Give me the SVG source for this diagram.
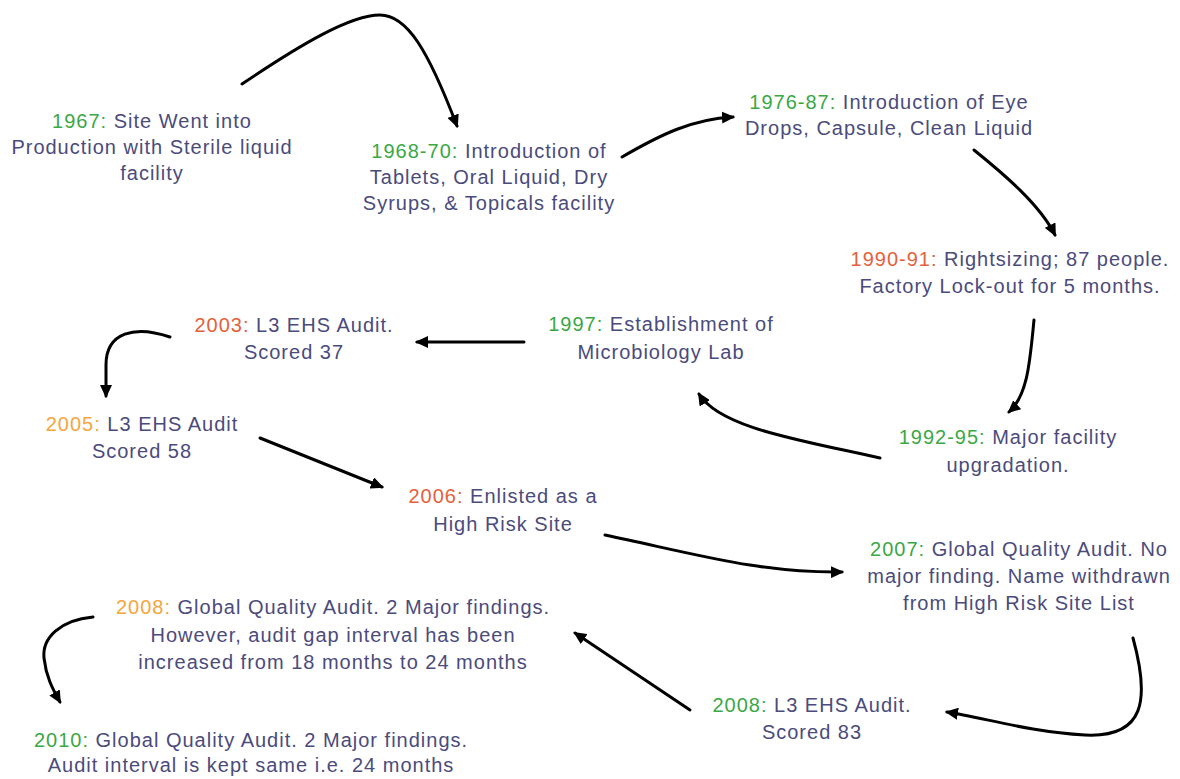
<svg xmlns="http://www.w3.org/2000/svg" width="1180" height="779" viewBox="0 0 1180 779">
<defs>
<style>
.t{font-family:"Liberation Sans",Arial,sans-serif;font-size:20px;letter-spacing:1px;fill:#4b4b7c;text-anchor:middle}
.g{fill:#3aa845}
.r{fill:#e5603a}
.o{fill:#f4a63e}
.c{fill:none;stroke:#000;stroke-width:3;stroke-linecap:round;marker-end:url(#ah)}
</style>
<marker id="ah" markerUnits="userSpaceOnUse" markerWidth="14" markerHeight="12" refX="11" refY="6" orient="auto">
<path d="M0,0 L13,6 L0,12 z" fill="#000"/>
</marker>
</defs>
<rect width="1180" height="779" fill="#fff"/>
<g id="connectors">
<path class="c" d="M242,84 C300,45 350,15 380,15 C407,15 428,50 457,126"/>
<path class="c" d="M622,157 C660,135 692,119 733,117"/>
<path class="c" d="M974,150 C1005,175 1040,205 1055,235"/>
<path class="c" d="M1034,320 C1030,360 1028,395 1009,412"/>
<path class="c" d="M880,458 C800,440 720,428 699,394"/>
<path class="c" d="M524,342 L417,342"/>
<path class="c" d="M170,337 C135,325 106,332 106,365 L106,396"/>
<path class="c" d="M260,438 L382,487"/>
<path class="c" d="M605,535 C700,555 760,573 842,572"/>
<path class="c" d="M1133,638 C1150,700 1145,738 1085,735 C1030,732 985,718 947,712"/>
<path class="c" d="M690,710 L575,633"/>
<path class="c" d="M93,617 C60,620 42,638 44,658 C46,676 52,688 60,702"/>
</g>
<g id="n1967"><text class="t" x="152" y="128"><tspan class="g">1967:</tspan> Site Went into<tspan x="152" y="154">Production with Sterile liquid</tspan><tspan x="152" y="180">facility</tspan></text></g>
<g id="n1968"><text class="t" x="489" y="158"><tspan class="g">1968-70:</tspan> Introduction of<tspan x="489" y="184">Tablets, Oral Liquid, Dry</tspan><tspan x="489" y="210">Syrups, &amp; Topicals facility</tspan></text></g>
<g id="n1976"><text class="t" x="889" y="109"><tspan class="g">1976-87:</tspan> Introduction of Eye<tspan x="889" y="135">Drops, Capsule, Clean Liquid</tspan></text></g>
<g id="n1990"><text class="t" x="1010" y="266"><tspan class="r">1990-91:</tspan> Rightsizing; 87 people.<tspan x="1010" y="293">Factory Lock-out for 5 months.</tspan></text></g>
<g id="n1992"><text class="t" x="1008" y="444"><tspan class="g">1992-95:</tspan> Major facility<tspan x="1008" y="472">upgradation.</tspan></text></g>
<g id="n1997"><text class="t" x="661" y="331"><tspan class="g">1997:</tspan> Establishment of<tspan x="661" y="359">Microbiology Lab</tspan></text></g>
<g id="n2003"><text class="t" x="294" y="332"><tspan class="r">2003:</tspan> L3 EHS Audit.<tspan x="294" y="359">Scored 37</tspan></text></g>
<g id="n2005"><text class="t" x="142" y="431"><tspan class="o">2005:</tspan> L3 EHS Audit<tspan x="142" y="458">Scored 58</tspan></text></g>
<g id="n2006"><text class="t" x="503" y="503"><tspan class="r">2006:</tspan> Enlisted as a<tspan x="503" y="531">High Risk Site</tspan></text></g>
<g id="n2007"><text class="t" x="1019" y="556"><tspan class="g">2007:</tspan> Global Quality Audit. No<tspan x="1019" y="583">major finding. Name withdrawn</tspan><tspan x="1019" y="610">from High Risk Site List</tspan></text></g>
<g id="n2008a"><text class="t" x="812" y="712"><tspan class="g">2008:</tspan> L3 EHS Audit.<tspan x="812" y="739">Scored 83</tspan></text></g>
<g id="n2008b"><text class="t" x="333" y="614"><tspan class="o">2008:</tspan> Global Quality Audit. 2 Major findings.<tspan x="333" y="642">However, audit gap interval has been</tspan><tspan x="333" y="669">increased from 18 months to 24 months</tspan></text></g>
<g id="n2010"><text class="t" x="251" y="747"><tspan class="g">2010:</tspan> Global Quality Audit. 2 Major findings.<tspan x="251" y="772">Audit interval is kept same i.e. 24 months</tspan></text></g>
</svg>
